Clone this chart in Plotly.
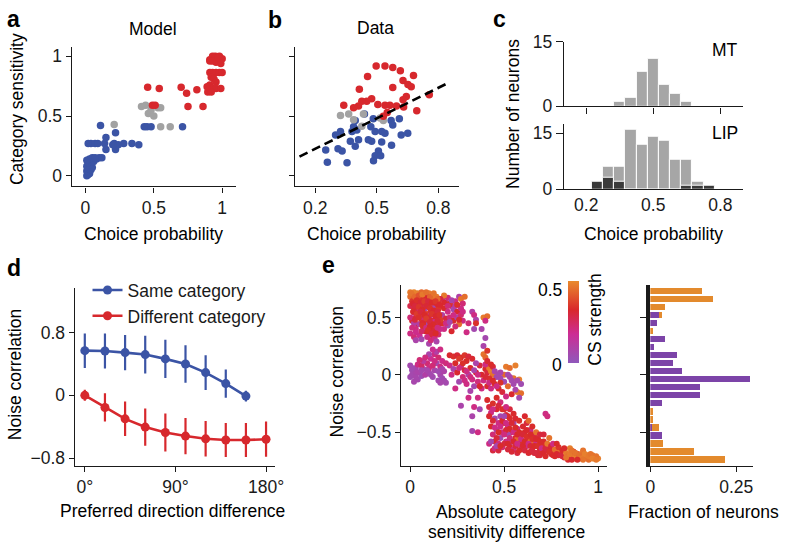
import plotly.graph_objects as go

W, H = 788, 552
FONT = "Liberation Sans, Arial, Helvetica, sans-serif"
FS = 17.5
BLUE = "#3b54a5"
RED = "#d7282d"
GRAY = "#a2a2a2"
ORANGE = "#e38a2d"
PURPLE = "#7c44a8"
INK = "#1a1a1a"

# ---------------- panel a (Model) ----------------
a_blue = [(0.01,0.00),(0.02,0.01),(0.03,0.02),(0.01,0.04),(0.02,0.06),(0.04,0.05),(0.05,0.07),
          (0.01,0.08),(0.03,0.09),(0.02,0.11),(0.04,0.12),(0.06,0.12),(0.08,0.14),(0.10,0.15),
          (0.12,0.15),(0.03,0.14),(0.05,0.15),(0.01,0.13),(0.07,0.15),(0.02,0.27),(0.04,0.27),
          (0.07,0.27),(0.09,0.27),(0.14,0.27),(0.15,0.32),(0.22,0.36),(0.11,0.42),(0.21,0.27),
          (0.28,0.27),(0.34,0.27),(0.39,0.26),(0.15,0.22),(0.22,0.22),(0.24,0.26),(0.20,0.26),
          (0.43,0.41),(0.45,0.41),(0.48,0.41),(0.71,0.41)]
a_gray = [(0.21,0.43),(0.41,0.58),(0.46,0.52),(0.50,0.50),(0.53,0.57),(0.55,0.57),(0.55,0.41),
          (0.62,0.41),(0.48,0.55),(0.44,0.59)]
a_red = [(0.455,0.74),(0.54,0.73),(0.49,0.59),(0.51,0.59),(0.70,0.74),(0.74,0.69),(0.815,0.72),
         (0.75,0.58),(0.86,0.58),(0.91,0.97),(0.93,1.0),(0.95,1.0),(0.98,1.0),(1.0,0.98),
         (0.98,0.96),(0.955,0.95),(0.93,0.96),(0.91,0.96),(0.91,0.865),(0.93,0.865),(0.955,0.865),
         (0.98,0.865),(1.0,0.865),(0.92,0.825),(0.94,0.81),(0.955,0.785),(0.91,0.76),(0.93,0.73),
         (0.955,0.73),(0.99,0.73),(0.895,0.70),(0.92,0.70),(0.89,0.745),(0.97,0.99),(0.99,0.94)]

# ---------------- panel b (Data) ----------------
b_red = [(0.497,0.919),(0.54,0.919),(0.578,0.906),(0.615,0.879),(0.679,0.839),(0.455,0.83),
         (0.628,0.798),(0.652,0.763),(0.668,0.745),(0.578,0.739),(0.415,0.723),(0.644,0.664),
         (0.756,0.677),(0.628,0.637),(0.339,0.591),(0.475,0.645),(0.451,0.624),(0.427,0.624),
         (0.411,0.583),(0.387,0.570),(0.505,0.597),(0.54,0.591),(0.564,0.591),(0.596,0.583),
         (0.631,0.575),(0.695,0.543),(0.551,0.53),(0.532,0.497)]
b_gray = [(0.323,0.505),(0.363,0.516),(0.387,0.468),(0.427,0.414),(0.516,0.484),(0.532,0.462),
          (0.435,0.516)]
b_blue = [(0.44,0.516),(0.395,0.462),(0.483,0.478),(0.57,0.462),(0.61,0.478),(0.578,0.425),
          (0.387,0.41),(0.403,0.382),(0.379,0.37),(0.471,0.41),(0.492,0.37),(0.524,0.37),
          (0.54,0.355),(0.323,0.37),(0.299,0.342),(0.411,0.301),(0.371,0.288),(0.395,0.247),
          (0.459,0.301),(0.475,0.288),(0.524,0.282),(0.619,0.342),(0.651,0.355),(0.572,0.255),
          (0.251,0.215),(0.311,0.226),(0.331,0.207),(0.508,0.207),(0.492,0.167),(0.519,0.167),
          (0.484,0.126),(0.259,0.113),(0.355,0.108)]
b_fit_x = [0.123, 0.852]
b_fit_y = [0.16, 0.78]

# ---------------- panel c (histograms) ----------------
c_bins = [0.25,0.30,0.35,0.40,0.45,0.50,0.55,0.60,0.65,0.70,0.75]
c_mt = [0,0,1,2,8,11,5,3,1,0,0]
c_lip_all = [2,6,6,16,12,14,13,8,8,2,1]
c_lip_dark = [2,3,2,0,0,0,0,0,1,1,1]

# ---------------- panel d ----------------
d_x_same = [0,20,40,60,80,100,120,140,160]
d_same = [0.57,0.565,0.545,0.52,0.465,0.40,0.29,0.15,-0.01]
d_same_err = [0.22,0.223,0.226,0.24,0.245,0.238,0.223,0.18,0.07]
d_x_diff = [0,20,40,60,80,100,120,140,160,180]
d_diff = [0.0,-0.155,-0.30,-0.405,-0.475,-0.52,-0.555,-0.57,-0.57,-0.56]
d_diff_err = [0.07,0.18,0.22,0.238,0.242,0.232,0.226,0.217,0.217,0.225]

# ---------------- panel e scatter (x, y, CS strength) ----------------
e_top_left = [(0.0,0.72,0.48),(0.01,0.7,0.47),(0.02,0.72,0.49),(0.03,0.69,0.46),(0.0,0.68,0.45),
    (0.04,0.71,0.48),(0.06,0.72,0.44),(0.08,0.7,0.46),(0.1,0.71,0.47),(0.12,0.69,0.48),(0.13,0.66,0.49),
    (0.14,0.68,0.47),(0.15,0.64,0.46),(0.11,0.66,0.45),(0.02,0.66,0.42),(0.01,0.64,0.35),(0.03,0.62,0.33),
    (0.05,0.65,0.36),(0.07,0.67,0.34),(0.09,0.68,0.32),(0.06,0.6,0.3),(0.02,0.58,0.34),(0.04,0.56,0.31),
    (0.08,0.62,0.35),(0.1,0.6,0.33),(0.12,0.62,0.36),(0.14,0.6,0.32),(0.16,0.66,0.3),(0.0,0.6,0.28),
    (0.05,0.52,0.34),(0.07,0.55,0.32),(0.09,0.53,0.36),(0.11,0.56,0.31),(0.13,0.54,0.33),(0.15,0.57,0.35),
    (0.03,0.5,0.3),(0.01,0.47,0.33),(0.06,0.48,0.35),(0.08,0.46,0.31),(0.1,0.49,0.34),(0.12,0.47,0.3),
    (0.14,0.5,0.32),(0.16,0.48,0.36),(0.04,0.44,0.33),(0.07,0.41,0.3),(0.09,0.43,0.34),(0.11,0.4,0.32),
    (0.13,0.42,0.35),(0.15,0.44,0.31),(0.1,0.36,0.33),(0.12,0.34,0.3),(0.08,0.38,0.32),(0.14,0.38,0.28),
    (0.02,0.54,0.2),(0.0,0.5,0.22),(0.05,0.58,0.18),(0.07,0.5,0.23),(0.11,0.52,0.2),(0.13,0.46,0.19),
    (0.03,0.4,0.21),(0.0,0.36,0.2),(0.02,0.33,0.22),(0.05,0.34,0.18),(0.06,0.38,0.24),(0.09,0.33,0.2),
    (0.11,0.3,0.22),(0.13,0.32,0.2),(0.15,0.35,0.23),(0.16,0.4,0.19),(0.03,0.3,0.08),(0.06,0.31,0.06),
    (0.05,0.44,0.1),(0.08,0.58,0.09),(0.12,0.58,0.07),(0.1,0.44,0.05),(0.14,0.29,0.08),(0.02,0.45,0.1)]
e_top_left_more = [(0.005,0.71,0.46),(0.025,0.68,0.44),(0.045,0.69,0.4),(0.065,0.7,0.47),
    (0.085,0.72,0.45),(0.105,0.68,0.43),(0.125,0.71,0.46),(0.145,0.66,0.44),(0.015,0.62,0.32),
    (0.035,0.65,0.34),(0.055,0.63,0.31),(0.075,0.64,0.36),(0.095,0.64,0.3),(0.115,0.63,0.33),
    (0.135,0.64,0.35),(0.155,0.61,0.32),(0.025,0.6,0.3),(0.045,0.59,0.35),(0.065,0.57,0.33),
    (0.085,0.6,0.31),(0.105,0.58,0.34),(0.125,0.56,0.32),(0.145,0.55,0.3),(0.015,0.55,0.33),
    (0.035,0.53,0.36),(0.055,0.55,0.3),(0.075,0.52,0.33),(0.095,0.5,0.31),(0.115,0.53,0.35),
    (0.135,0.51,0.32),(0.155,0.52,0.34),(0.025,0.48,0.3),(0.045,0.5,0.34),(0.065,0.45,0.32),
    (0.085,0.49,0.36),(0.105,0.46,0.3),(0.125,0.44,0.33),(0.145,0.47,0.31),(0.065,0.43,0.34),
    (0.085,0.41,0.2),(0.105,0.42,0.32),(0.125,0.38,0.31),(0.095,0.39,0.34),(0.115,0.36,0.3),
    (0.135,0.36,0.33),(0.145,0.41,0.21),(0.03,0.37,0.19),(0.01,0.41,0.21)]
e_upper_mid = [(0.17,0.66,0.2),(0.19,0.63,0.08),(0.2,0.67,0.22),(0.22,0.6,0.3),(0.24,0.64,0.2),
    (0.26,0.68,0.1),(0.27,0.66,0.46),(0.28,0.62,0.22),(0.18,0.58,0.33),(0.2,0.55,0.2),(0.23,0.57,0.06),
    (0.25,0.55,0.32),(0.27,0.58,0.2),(0.17,0.52,0.1),(0.19,0.49,0.3),(0.21,0.5,0.22),(0.23,0.47,0.33),
    (0.25,0.5,0.08),(0.27,0.52,0.23),(0.28,0.47,0.2),(0.26,0.44,0.45),(0.24,0.42,0.22),(0.2,0.43,0.05),
    (0.18,0.4,0.2),(0.22,0.38,0.32),(0.17,0.45,0.34),(0.21,0.62,0.34),(0.24,0.6,0.12),
    (0.33,0.55,0.1),(0.34,0.52,0.2),(0.35,0.48,0.08),(0.39,0.5,0.47),(0.41,0.51,0.45),(0.4,0.47,0.2),
    (0.31,0.45,0.22),(0.34,0.4,0.06),(0.38,0.4,0.08),(0.4,0.32,0.06),(0.3,0.37,0.2),(0.35,0.45,0.34),
    (0.18,0.63,0.32),(0.2,0.6,0.22),(0.22,0.65,0.08),(0.25,0.61,0.34),(0.23,0.52,0.2),(0.26,0.48,0.32),
    (0.19,0.45,0.2),(0.21,0.46,0.07),(0.28,0.55,0.2),(0.29,0.68,0.45),(0.18,0.69,0.47),(0.16,0.6,0.33)]
e_zero_band = [(0.0,0.08,0.06),(0.01,0.04,0.05),(0.02,0.0,0.08),(0.0,-0.02,0.05),(0.03,0.06,0.07),
    (0.04,-0.04,0.06),(0.05,0.02,0.09),(0.06,-0.01,0.04),(0.02,-0.06,0.07),(0.08,0.0,0.1),(0.07,0.05,0.06),
    (0.1,0.02,0.08),(0.12,-0.02,0.05),(0.13,0.04,0.07),(0.15,-0.05,0.06),(0.16,0.0,0.08),(0.17,-0.03,0.05),
    (0.14,0.1,0.06),(0.18,0.03,0.09),(0.19,-0.07,0.06),(0.04,0.09,0.2),(0.09,0.1,0.22),(0.11,0.14,0.18),
    (0.13,0.18,0.2),(0.15,0.15,0.23),(0.17,0.12,0.19),(0.1,0.06,0.2),(0.06,0.08,0.24),(0.12,0.08,0.22),
    (0.16,0.07,0.2),(0.19,0.1,0.21),(0.14,0.2,0.1),(0.1,0.18,0.08),(0.07,0.12,0.12),(0.1,0.27,0.08),
    (0.16,0.22,0.2),(0.01,0.0,0.06),(0.03,0.02,0.07),(0.01,0.06,0.05),(0.04,0.02,0.08),(0.06,0.04,0.06),
    (0.09,0.04,0.07),(0.11,0.0,0.06),(0.15,0.03,0.05),(0.17,0.05,0.08),(0.18,-0.05,0.06),(0.16,-0.07,0.07),
    (0.13,0.12,0.2),(0.12,0.22,0.18),(0.08,0.15,0.21),(0.05,0.13,0.22),(0.03,-0.02,0.07)]
e_middle = [(0.21,0.17,0.32),(0.23,0.16,0.34),(0.25,0.17,0.31),(0.27,0.15,0.33),(0.29,0.17,0.35),
    (0.31,0.16,0.3),(0.33,0.14,0.32),(0.26,0.14,0.36),(0.3,0.12,0.33),(0.21,0.08,0.2),(0.23,0.05,0.08),
    (0.24,0.1,0.33),(0.22,0.0,0.2),(0.25,0.02,0.32),(0.27,0.07,0.2),(0.28,-0.02,0.22),(0.26,-0.06,0.06),
    (0.29,0.04,0.3),(0.3,-0.08,0.2),(0.31,0.0,0.08),(0.32,0.06,0.33),(0.33,-0.04,0.2),(0.34,-0.1,0.07),
    (0.35,0.02,0.32),(0.36,-0.06,0.21),(0.37,0.08,0.3),(0.38,-0.12,0.2),(0.24,-0.12,0.2),(0.32,-0.14,0.08),
    (0.35,0.1,0.08),(0.28,0.1,0.34),(0.39,0.18,0.46),(0.4,0.15,0.44),(0.4,0.05,0.33),(0.41,0.02,0.3),
    (0.42,0.06,0.47),(0.43,0.03,0.48),(0.44,0.0,0.46),(0.42,-0.03,0.34),(0.39,-0.05,0.2),(0.41,-0.1,0.33),
    (0.43,-0.12,0.2),(0.44,0.07,0.3),(0.45,0.03,0.08),(0.46,-0.02,0.06),(0.45,-0.08,0.33),(0.38,0.0,0.32),
    (0.4,0.09,0.2),(0.39,0.25,0.08),(0.41,0.21,0.35),(0.51,0.07,0.47),(0.53,0.06,0.45),(0.56,0.08,0.48),
    (0.5,0.0,0.44),(0.55,-0.03,0.46),(0.58,-0.04,0.48),(0.57,-0.15,0.47),(0.59,-0.16,0.45),(0.52,-0.1,0.44),
    (0.48,-0.03,0.06),(0.5,-0.06,0.05),(0.53,-0.02,0.08),(0.55,-0.08,0.06),(0.57,-0.05,0.07),
    (0.59,-0.08,0.05),(0.56,-0.13,0.08),(0.58,-0.2,0.06),(0.48,0.02,0.09),(0.47,-0.12,0.33),
    (0.49,-0.15,0.3),(0.51,-0.19,0.2),(0.48,-0.07,0.34),(0.54,-0.17,0.32),(0.27,-0.27,0.08),
    (0.31,-0.2,0.2),(0.33,-0.36,0.08),(0.33,-0.49,0.07),(0.36,-0.5,0.2),(0.34,-0.28,0.2),(0.37,-0.3,0.06),
    (0.36,-0.2,0.2),(0.3,0.03,0.2),(0.32,-0.02,0.21),(0.34,0.04,0.08),(0.36,0.0,0.2),(0.37,-0.1,0.32),
    (0.4,-0.02,0.31),(0.42,-0.07,0.2),(0.43,0.09,0.33),(0.41,0.12,0.31),(0.44,-0.05,0.33),(0.46,-0.1,0.2),
    (0.47,0.0,0.07),(0.52,0.0,0.06),(0.54,-0.05,0.06),(0.26,0.06,0.21),(0.29,-0.05,0.2)]
e_lower = [(0.41,-0.22,0.33),(0.42,-0.28,0.3),(0.43,-0.33,0.2),(0.44,-0.25,0.34),(0.45,-0.38,0.06),
    (0.46,-0.3,0.32),(0.47,-0.42,0.2),(0.43,-0.45,0.33),(0.44,-0.52,0.22),(0.46,-0.48,0.06),(0.48,-0.36,0.07),
    (0.49,-0.5,0.2),(0.45,-0.58,0.32),(0.47,-0.6,0.21),(0.48,-0.55,0.05),(0.5,-0.42,0.33),(0.42,-0.6,0.2),
    (0.44,-0.66,0.3),(0.49,-0.63,0.22),(0.5,-0.3,0.3),(0.46,-0.2,0.33),(0.48,-0.24,0.21),(0.51,-0.35,0.32),
    (0.52,-0.45,0.2),(0.53,-0.38,0.34),(0.54,-0.5,0.3),(0.55,-0.42,0.06),(0.56,-0.55,0.33),(0.57,-0.47,0.2),
    (0.58,-0.6,0.31),(0.59,-0.52,0.35),(0.51,-0.58,0.2),(0.53,-0.62,0.33),(0.55,-0.65,0.21),(0.57,-0.68,0.3),
    (0.6,-0.45,0.32),(0.52,-0.52,0.06),(0.54,-0.58,0.08),(0.56,-0.38,0.32),(0.58,-0.4,0.34),(0.59,-0.64,0.22),
    (0.55,-0.34,0.33),(0.53,-0.3,0.3),(0.57,-0.56,0.44),(0.6,-0.58,0.34),(0.51,-0.48,0.31),(0.61,-0.5,0.33),
    (0.62,-0.42,0.3),(0.63,-0.55,0.34),(0.64,-0.48,0.2),(0.65,-0.6,0.32),(0.66,-0.52,0.3),(0.67,-0.62,0.35),
    (0.68,-0.56,0.33),(0.69,-0.65,0.31),(0.7,-0.6,0.34),(0.62,-0.62,0.21),(0.64,-0.67,0.33),(0.66,-0.68,0.3),
    (0.68,-0.7,0.32),(0.63,-0.4,0.44),(0.61,-0.36,0.32),(0.65,-0.45,0.33),(0.67,-0.5,0.46),(0.69,-0.52,0.3),
    (0.7,-0.67,0.34),(0.66,-0.58,0.2),(0.64,-0.58,0.45),(0.72,-0.34,0.2),(0.73,-0.36,0.21)]
e_lower_more = [(0.44,-0.4,0.31),(0.45,-0.46,0.2),(0.46,-0.55,0.3),(0.47,-0.5,0.33),(0.48,-0.45,0.2),
    (0.49,-0.4,0.32),(0.5,-0.52,0.21),(0.5,-0.6,0.3),(0.51,-0.42,0.2),(0.52,-0.6,0.32),(0.53,-0.55,0.22),
    (0.53,-0.47,0.33),(0.54,-0.42,0.31),(0.55,-0.5,0.2),(0.55,-0.58,0.32),(0.56,-0.46,0.33),(0.56,-0.62,0.3),
    (0.57,-0.52,0.32),(0.57,-0.6,0.2),(0.58,-0.5,0.33),(0.58,-0.66,0.33),(0.59,-0.56,0.2),(0.6,-0.62,0.32),
    (0.6,-0.52,0.31),(0.61,-0.58,0.33),(0.61,-0.66,0.3),(0.62,-0.54,0.34),(0.62,-0.48,0.32),(0.63,-0.6,0.2),
    (0.63,-0.68,0.32),(0.64,-0.52,0.33),(0.64,-0.62,0.31),(0.65,-0.56,0.34),(0.65,-0.66,0.3),(0.66,-0.62,0.33),
    (0.67,-0.56,0.32),(0.67,-0.68,0.3),(0.68,-0.62,0.34),(0.69,-0.58,0.33),(0.69,-0.7,0.31),(0.7,-0.64,0.2),
    (0.71,-0.68,0.32),(0.72,-0.6,0.34),(0.73,-0.66,0.31),(0.74,-0.62,0.33),(0.75,-0.69,0.3),(0.76,-0.65,0.32),
    (0.77,-0.71,0.33),(0.78,-0.66,0.46),(0.79,-0.7,0.34),(0.8,-0.66,0.47),(0.81,-0.71,0.31),(0.45,-0.64,0.2),
    (0.47,-0.66,0.3),(0.43,-0.58,0.06),(0.46,-0.62,0.07),(0.48,-0.62,0.33),(0.52,-0.65,0.3),(0.54,-0.67,0.31),
    (0.42,-0.36,0.32),(0.44,-0.3,0.2),(0.47,-0.27,0.3),(0.49,-0.3,0.34),(0.51,-0.28,0.2),(0.52,-0.36,0.33),
    (0.5,-0.36,0.06)]
e_tail = [(0.71,-0.58,0.33),(0.72,-0.64,0.3),(0.73,-0.6,0.47),(0.74,-0.67,0.34),(0.75,-0.62,0.31),
    (0.76,-0.7,0.33),(0.77,-0.65,0.45),(0.78,-0.69,0.32),(0.79,-0.63,0.35),(0.8,-0.7,0.3),(0.72,-0.71,0.33),
    (0.76,-0.6,0.2),(0.74,-0.55,0.46),(0.71,-0.52,0.3),(0.78,-0.6,0.33),(0.81,-0.66,0.33),(0.82,-0.72,0.3),
    (0.83,-0.68,0.47),(0.84,-0.7,0.46),(0.85,-0.64,0.48),(0.86,-0.71,0.45),(0.87,-0.67,0.34),(0.88,-0.72,0.47),
    (0.89,-0.69,0.32),(0.9,-0.72,0.47),(0.91,-0.69,0.48),(0.92,-0.66,0.46),(0.93,-0.72,0.45),(0.94,-0.7,0.47),
    (0.96,-0.72,0.48),(0.97,-0.7,0.46),(0.98,-0.73,0.47),(1.0,-0.73,0.48),(0.99,-0.71,0.46),(0.82,-0.64,0.33),
    (0.84,-0.74,0.32),(0.95,-0.74,0.45),(0.83,-0.72,0.46),(0.85,-0.69,0.47),(0.86,-0.66,0.46),
    (0.87,-0.73,0.48),(0.88,-0.68,0.46),(0.9,-0.7,0.45),(0.91,-0.73,0.47),(0.93,-0.69,0.48),(0.95,-0.71,0.47),
    (0.96,-0.69,0.46),(0.97,-0.73,0.48),(0.99,-0.74,0.47),(0.92,-0.74,0.46),(0.89,-0.74,0.33),(0.86,-0.74,0.32)]

# ---------------- panel e histogram ----------------
e_hist_bins = [0.735,0.665,0.595,0.525,0.455,0.385,0.315,0.245,0.175,0.105,0.035,
               -0.035,-0.105,-0.175,-0.245,-0.315,-0.385,-0.455,-0.525,-0.595,-0.665,-0.735]
e_hist_orange = [0.150,0.182,0.044,0.035,0,0.010,0,0,0,0,0,0,0,0,0,0.008,0.008,0.025,0,0.038,0.128,0.219]
e_hist_purple = [0,0,0,0.026,0.019,0,0.043,0.012,0.078,0.066,0.092,0.292,0.144,0.145,0.036,0,0,0.005,0.036,0,0,0]

CS_SCALE = [[0, "#8f58bb"], [0.35, "#cc2d95"], [0.65, "#d9282b"], [1, "#e98b2e"]]


def dx(x0, x1):
    return [x0 / W, x1 / W]


def dy(y0, y1):
    return [1 - y1 / H, 1 - y0 / H]


def xs(pts):
    return [p[0] for p in pts]


def ys(pts):
    return [p[1] for p in pts]


fig = go.Figure()


def dots(pts, color, ax, size=7.5):
    fig.add_trace(go.Scatter(x=xs(pts), y=ys(pts), mode="markers", showlegend=False,
                             marker=dict(color=color, size=size, line=dict(width=0)),
                             xaxis="x" + ax, yaxis="y" + ax))


dots(a_blue, BLUE, "")
dots(a_gray, GRAY, "")
dots(a_red, RED, "")
dots(b_blue, BLUE, "2")
dots(b_gray, GRAY, "2")
dots(b_red, RED, "2")
fig.add_trace(go.Scatter(x=b_fit_x, y=b_fit_y, mode="lines", showlegend=False,
                         line=dict(color="black", width=2.6, dash="9px,5px"),
                         xaxis="x2", yaxis="y2"))

# panel c
fig.add_trace(go.Bar(x=c_bins, y=c_mt, width=0.05, marker=dict(color="#a6a6a6", line=dict(color="white", width=1)),
                     showlegend=False, xaxis="x3", yaxis="y3"))
fig.add_trace(go.Bar(x=c_bins, y=c_lip_all, width=0.05, marker=dict(color="#a6a6a6", line=dict(color="white", width=1)),
                     showlegend=False, xaxis="x4", yaxis="y4"))
fig.add_trace(go.Bar(x=c_bins, y=c_lip_dark, width=0.05, marker=dict(color="#3a3a3a", line=dict(color="white", width=1)),
                     showlegend=False, xaxis="x4", yaxis="y4"))

# panel d
fig.add_trace(go.Scatter(x=d_x_same, y=d_same, mode="lines+markers", name="Same category",
                         line=dict(color=BLUE, width=2.6), marker=dict(color=BLUE, size=9),
                         error_y=dict(type="data", array=d_same_err, color=BLUE, thickness=2.2, width=0),
                         xaxis="x5", yaxis="y5"))
fig.add_trace(go.Scatter(x=d_x_diff, y=d_diff, mode="lines+markers", name="Different category",
                         line=dict(color=RED, width=2.6), marker=dict(color=RED, size=9),
                         error_y=dict(type="data", array=d_diff_err, color=RED, thickness=2.2, width=0),
                         xaxis="x5", yaxis="y5"))

# panel e scatter
e_pts = (e_zero_band + e_middle + e_upper_mid + e_top_left + e_top_left_more
         + e_lower + e_lower_more + e_tail)
fig.add_trace(go.Scatter(x=xs(e_pts), y=ys(e_pts), mode="markers", showlegend=False,
                         marker=dict(color=[p[2] for p in e_pts], coloraxis="coloraxis", size=6,
                                     line=dict(width=0)),
                         xaxis="x6", yaxis="y6"))

# panel e histogram
fig.add_trace(go.Bar(y=e_hist_bins, x=e_hist_orange, orientation="h", width=0.056,
                     marker=dict(color=ORANGE, line=dict(width=0)), showlegend=False,
                     xaxis="x7", yaxis="y7"))
fig.add_trace(go.Bar(y=e_hist_bins, x=e_hist_purple, orientation="h", width=0.056,
                     marker=dict(color=PURPLE, line=dict(width=0)), showlegend=False,
                     xaxis="x7", yaxis="y7"))

tickfont = dict(family=FONT, size=FS, color=INK)


def ax(domain, rng, anchor, tickvals=None, ticktext=None, showlabels=True, ticks="outside",
       ticklen=5, lw=1.4, showline=True):
    d = dict(domain=domain, range=rng, anchor=anchor, showgrid=False, zeroline=False,
             showline=showline, linecolor=INK, linewidth=lw, ticks=ticks, ticklen=ticklen,
             tickwidth=1.3, tickcolor=INK, tickfont=tickfont, showticklabels=showlabels,
             fixedrange=True)
    if tickvals is not None:
        d["tickmode"] = "array"
        d["tickvals"] = tickvals
        if ticktext is not None:
            d["ticktext"] = ticktext
    return d


fig.update_layout(
    width=W, height=H, margin=dict(l=0, r=0, t=0, b=0),
    paper_bgcolor="white", plot_bgcolor="white",
    font=dict(family=FONT, size=FS, color=INK),
    barmode="overlay", bargap=0,
    xaxis=ax(dx(68, 235), [-0.1, 1.1], "y", [0, 0.5, 1], ["0", "0.5", "1"]),
    yaxis=ax(dy(38, 183), [-0.0887, 1.0806], "x", [0, 0.5, 1], ["0", "0.5", "1"]),
    xaxis2=ax(dx(295, 462), [0.1, 0.9], "y2", [0.2, 0.5, 0.8], ["0.2", "0.5", "0.8"]),
    yaxis2=ax(dy(38, 183), [-0.0887, 1.0806], "x2", [0, 0.5, 1], showlabels=False),
    xaxis3=ax(dx(569, 751), [0.1, 0.9], "y3", [0.2, 0.5, 0.8], showlabels=False, ticklen=6),
    yaxis3=ax(dy(33, 100), [0, 15], "x3", [0, 15], ["0", "15"], ticklen=7),
    xaxis4=ax(dx(569, 751), [0.1, 0.9], "y4", [0.2, 0.5, 0.8], ["0.2", "0.5", "0.8"], ticks="", ticklen=6),
    yaxis4=ax(dy(118, 186), [0, 17.5], "x4", [0, 15], ["0", "15"], ticklen=7),
    xaxis5=ax(dx(71, 275), [-10, 189], "y5", [0, 90, 180], ["0°", "90°", "180°"]),
    yaxis5=ax(dy(288, 473), [-0.9, 1.375], "x5", [-0.8, 0, 0.8], ["−0.8", "0", "0.8"]),
    xaxis6=ax(dx(403, 613), [-0.05, 1.048], "y6", [0, 0.5, 1], ["0", "0.5", "1"]),
    yaxis6=ax(dy(285, 473), [-0.793, 0.785], "x6", [-0.5, 0, 0.5], ["−0.5", "0", "0.5"]),
    xaxis7=ax(dx(657, 762), [0, 0.3], "y7", [0, 0.25], ["0", "0.25"]),
    yaxis7=ax(dy(285, 473), [-0.793, 0.785], "x7", [-0.5, 0, 0.5], showlabels=False, ticklen=7, lw=3.5),
    coloraxis=dict(cmin=0, cmax=0.5, colorscale=CS_SCALE,
                   colorbar=dict(x=573 / W, xanchor="left", y=1 - 324 / H, yanchor="middle",
                                 len=82, lenmode="pixels", thickness=11, thicknessmode="pixels",
                                 outlinewidth=0, showticklabels=False, ticks="", xpad=0, ypad=0)),
    legend=dict(x=84 / W, y=1 - 272 / H, xanchor="left", yanchor="top", bgcolor="rgba(0,0,0,0)",
                font=dict(family=FONT, size=FS, color=INK), itemwidth=30, tracegroupgap=0),
)

annots = []


def ann(text, x, y, size=FS, bold=False, angle=0, xanchor="center"):
    t = f"<b>{text}</b>" if bold else text
    annots.append(dict(text=t, x=x / W, y=1 - y / H, xref="paper", yref="paper", showarrow=False,
                       xanchor=xanchor, yanchor="middle", textangle=angle,
                       font=dict(family=FONT, size=size, color="black")))


ann("a", 0, 9, 23, True, xanchor="left")
ann("b", 266, 10, 23, True, xanchor="left")
ann("c", 495, 9, 23, True, xanchor="left")
ann("d", 0, 268, 23, True, xanchor="left")
ann("e", 321, 265, 23, True, xanchor="left")
ann("Model", 151, 20)
ann("Data", 377, 19)
ann("Choice probability", 151, 232)
ann("Choice probability", 378, 232)
ann("Choice probability", 660, 232)
ann("Category sensitivity", 12, 103, angle=-90)
ann("Number of neurons", 517, 108, angle=-90)
ann("MT", 748, 42, xanchor="right")
ann("LIP", 748, 128, xanchor="right")
ann("Noise correlation", 10, 378, angle=-90)
ann("Preferred direction difference", 171, 520)
ann("Noise correlation", 338, 375, angle=-90)
ann("Absolute category", 510, 521)
ann("sensitivity difference", 511, 542)
ann("Fraction of neurons", 711, 521)
ann("CS strength", 601, 321, angle=-90)
ann("0.5", 569, 291, xanchor="right")
ann("0", 569, 368, xanchor="right")

fig.update_layout(annotations=annots)

fig.write_html("out.html", config={"displayModeBar": False},
               post_script="document.body.style.margin='0';document.body.style.overflow='hidden';")
